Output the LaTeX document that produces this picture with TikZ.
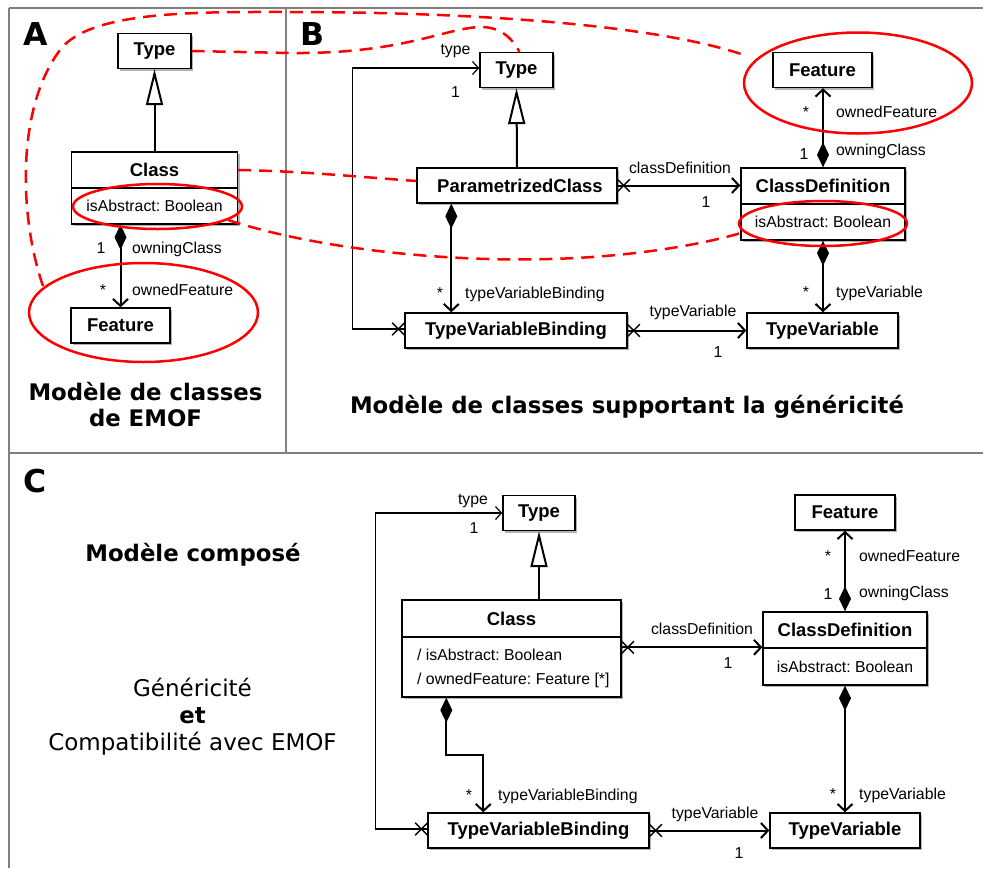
\documentclass[tikz,border=0pt]{standalone}
\usepackage{fontspec}
\setmainfont{Liberation Sans}
\newfontfamily\djv{DejaVu Sans}
\usetikzlibrary{arrows.meta,shapes.misc,shadows,calc}
\AtBeginDocument{\frenchspacing}
\begin{document}
\begin{tikzpicture}[x=1pt,y=-1pt,
 box/.style={draw, line width=1.4pt, fill=white, inner sep=0pt, font=\fontsize{18.5}{20}\selectfont\bfseries, general shadow={fill=black!30, shadow xshift=2.2pt, shadow yshift=-2.2pt}},
 abox/.style={box, font=\fontsize{15.8}{24}\selectfont},
 lbl/.style={inner sep=0pt, font=\fontsize{15.8}{18}\selectfont},
 thinln/.style={line width=1.2pt, -{Straight Barb[length=6pt,width=13pt]}},
 gen/.style={line width=2pt, -{Triangle[open, length=36pt, width=17pt]}},
 comp/.style={line width=2pt, {Diamond[length=25pt, width=12pt]}-{Straight Barb[length=7pt, width=15pt]}},
 nav/.style={line width=2pt, -{Straight Barb[length=7pt, width=15pt]}},
 xmk/.style={cross out, draw, line width=1.4pt, minimum size=11pt, inner sep=0pt},
 frame/.style={draw=black!50, line width=1.5pt},
 reddash/.style={draw=red, line width=2.5pt, dash pattern=on 13pt off 8pt},
 redring/.style={draw=red, line width=2.5pt},
 ttl/.style={inner sep=0pt, font=\djv\fontsize{22.8}{26}\selectfont\bfseries},
 txt/.style={inner sep=0pt, font=\djv\fontsize{23}{26}\selectfont},
 letter/.style={inner sep=0pt, font=\djv\fontsize{31.5}{34}\selectfont\bfseries}
]
\useasboundingbox[fill=white] (0,0) rectangle (983,868);

% frames
\draw[frame] (9,8) -- (983,8);
\draw[frame] (9,8) -- (9,868);
\draw[frame] (286,8) -- (286,453);
\draw[frame] (9,453) -- (983,453);

\node[letter, anchor=base west] (lA) at (23,45) {A};
\node[letter, anchor=base west] (lB) at (300,45) {B};
\node[letter, anchor=base west] (lC) at (23,492) {C};

% ---------- A ----------
\node[box, minimum width=73pt, minimum height=35pt] (typeA) at (154.5,51) {Type};
\node[box, minimum width=166pt, minimum height=36pt] (classAh) at (154.5,170) {Class};
\node[abox, minimum width=166pt, minimum height=36pt] (classAa) at (154.5,206) {isAbstract: Boolean};
\node[box, minimum width=99pt, minimum height=35pt] (featA) at (120.5,325.5) {Feature};
\draw[gen] (classAh.north) -- (typeA.south);
\draw[comp] (featA.north |- classAa.south) -- (featA.north);
\node[lbl, anchor=base] (a1) at (101,253) {1};
\node[lbl, anchor=base west] (a2) at (132,253) {owningClass};
\node[lbl, anchor=base] (a3) at (103,295) {*};
\node[lbl, anchor=base west] (a4) at (132,295) {ownedFeature};
\node[ttl, anchor=base] (tA1) at (145.5,400) {Modèle de classes};
\node[ttl, anchor=base] (tA2) at (145.5,426) {de EMOF};

% ---------- B ----------
\node[box, minimum width=73pt, minimum height=35pt] (typeB) at (516.5,70) {Type};
\node[box, minimum width=200pt, minimum height=35pt] (pcB) at (517,185.5) {\hspace{6pt}ParametrizedClass};
\node[box, minimum width=222pt, minimum height=35pt] (tvbB) at (516,330.5) {TypeVariableBinding};
\node[box, minimum width=164pt, minimum height=36pt] (cdhB) at (823,186) {ClassDefinition};
\node[abox, minimum width=164pt, minimum height=36pt] (cdaB) at (823,222) {isAbstract: Boolean};
\node[box, minimum width=99pt, minimum height=35pt] (featB) at (822.5,70) {Feature};
\node[box, minimum width=151pt, minimum height=35pt] (tvB) at (822.5,330.5) {TypeVariable};

\draw[gen] (pcB.north) -- (typeB.south);
\draw[comp] ([xshift=35pt]pcB.south west) -- ([xshift=35pt]pcB.south west |- tvbB.north);
\draw[nav] (pcB.east) -- (pcB.east -| cdhB.west);
\node[xmk] (xB1) at ([xshift=6pt]pcB.east) {};
\draw[comp] (cdhB.north) -- (cdhB.north |- featB.south);
\draw[comp] (cdaB.south) -- (cdaB.south |- tvB.north);
\draw[nav] (tvbB.east) -- (tvbB.east -| tvB.west);
\node[xmk] (xB2) at ([xshift=6pt]tvbB.east) {};
\draw[thinln] ([yshift=1.5pt]tvbB.west) -- ++(-52,0) |- ([yshift=2pt]typeB.west);
\node[xmk] (xB3) at ([xshift=-6pt,yshift=1.5pt]tvbB.west) {};

\node[lbl, anchor=base] (b1) at (455.5,54) {type};
\node[lbl, anchor=base] (b2) at (455.5,97) {1};
\node[lbl, anchor=base] (b3) at (440,298) {*};
\node[lbl, anchor=base west] (b4) at (465,298) {typeVariableBinding};
\node[lbl, anchor=base] (b5) at (680,173) {classDefinition};
\node[lbl, anchor=base] (b6) at (706,207) {1};
\node[lbl, anchor=base] (b7) at (806,117) {*};
\node[lbl, anchor=base west] (b8) at (836,117) {ownedFeature};
\node[lbl, anchor=base] (b9) at (804,159) {1};
\node[lbl, anchor=base west] (b10) at (836,155) {owningClass};
\node[lbl, anchor=base] (b11) at (806,297) {*};
\node[lbl, anchor=base west] (b12) at (836,297) {typeVariable};
\node[lbl, anchor=base] (b13) at (693,316) {typeVariable};
\node[lbl, anchor=base] (b14) at (718,357) {1};
\node[ttl, anchor=base] (tB) at (627,413) {Modèle de classes supportant la généricité};

% ---------- C ----------
\node[box, minimum width=72pt, minimum height=35pt] (typeC) at (539,513) {Type};
\node[box, minimum width=219pt, minimum height=37pt] (classCh) at (511.5,618.5) {Class};
\node[abox, minimum width=219pt, minimum height=60pt] (classCa) at (511.5,667) {};
\node[lbl, anchor=base west] (ca1) at (417,660.5) {/ isAbstract: Boolean};
\node[lbl, anchor=base west] (ca2) at (417,684.5) {/ ownedFeature: Feature [*]};
\node[box, minimum width=221pt, minimum height=35pt] (tvbC) at (538.5,830.5) {TypeVariableBinding};
\node[box, minimum width=164pt, minimum height=36pt] (cdhC) at (845,630) {ClassDefinition};
\node[abox, minimum width=164pt, minimum height=37pt] (cdaC) at (845,666.5) {isAbstract: Boolean};
\node[box, minimum width=100pt, minimum height=35pt] (featC) at (845,512.5) {Feature};
\node[box, minimum width=150pt, minimum height=35pt] (tvC) at (845,830.5) {TypeVariable};

\draw[gen] (typeC.south |- classCh.north) -- (typeC.south);
\draw[comp] ([xshift=45pt]classCa.south west) -- ++(0,57) -| ([xshift=56pt]tvbC.north west);
\draw[nav] ([yshift=-11pt]classCa.north east) -- ([yshift=-11pt]classCa.north east -| cdhC.west);
\node[xmk] (xC1) at ([xshift=6pt,yshift=-11pt]classCa.north east) {};
\draw[comp] (cdhC.north) -- (cdhC.north |- featC.south);
\draw[comp] (cdaC.south) -- (cdaC.south |- tvC.north);
\draw[nav] (tvbC.east) -- (tvbC.east -| tvC.west);
\node[xmk] (xC2) at ([xshift=6pt]tvbC.east) {};
\draw[thinln] ([yshift=1.5pt]tvbC.west) -- ++(-52,0) |- (typeC.west);
\node[xmk] (xC3) at ([xshift=-6pt,yshift=1.5pt]tvbC.west) {};

\node[lbl, anchor=base] (c1) at (473,504) {type};
\node[lbl, anchor=base] (c2) at (474,533) {1};
\node[lbl, anchor=base] (c3) at (469,800) {*};
\node[lbl, anchor=base west] (c4) at (498,800) {typeVariableBinding};
\node[lbl, anchor=base] (c5) at (702,634) {classDefinition};
\node[lbl, anchor=base] (c6) at (728,668) {1};
\node[lbl, anchor=base] (c7) at (828,561) {*};
\node[lbl, anchor=base west] (c8) at (859,561) {ownedFeature};
\node[lbl, anchor=base] (c9) at (828,599) {1};
\node[lbl, anchor=base west] (c10) at (859,597) {owningClass};
\node[lbl, anchor=base] (c11) at (833,799) {*};
\node[lbl, anchor=base west] (c12) at (859,799) {typeVariable};
\node[lbl, anchor=base] (c13) at (715,818) {typeVariable};
\node[lbl, anchor=base] (c14) at (739,858) {1};

\node[ttl, anchor=base] (tC) at (193,561) {Modèle composé};
\node[txt, anchor=base] (g1) at (192.5,696) {Généricité};
\node[ttl, anchor=base] (g2) at (192.5,723) {et};
\node[txt, anchor=base] (g3) at (192.5,750) {Compatibilité avec EMOF};

% ---------- red annotations ----------
\draw[redring] (157.5,206.5) ellipse [x radius=84.5pt, y radius=22.5pt];
\draw[redring] (143.5,312.5) ellipse [x radius=114.5pt, y radius=49.5pt];
\draw[redring] (858,83) ellipse [x radius=114pt, y radius=50.5pt];
\draw[redring] (823,223.5) ellipse [x radius=84pt, y radius=22.5pt];

\draw[reddash] (typeA.east) -- (290,53) .. controls (400,54) and (440,30) .. (478,27) .. controls (500,26) and (512,38) .. ([xshift=3pt]typeB.north);
\draw[reddash] (43,286) .. controls (20,220) and (15,110) .. (60,50) .. controls (90,10) and (200,12) .. (290,12) .. controls (450,12) and (650,22) .. (747,56);
\draw[reddash] (classAh.east) .. controls (300,171) and (360,177) .. ([yshift=4.5pt]pcB.west);
\draw[reddash] (228,220) .. controls (320,250) and (450,262) .. (550,259) .. controls (630,257) and (700,245) .. (741,233);
\end{tikzpicture}
\end{document}
